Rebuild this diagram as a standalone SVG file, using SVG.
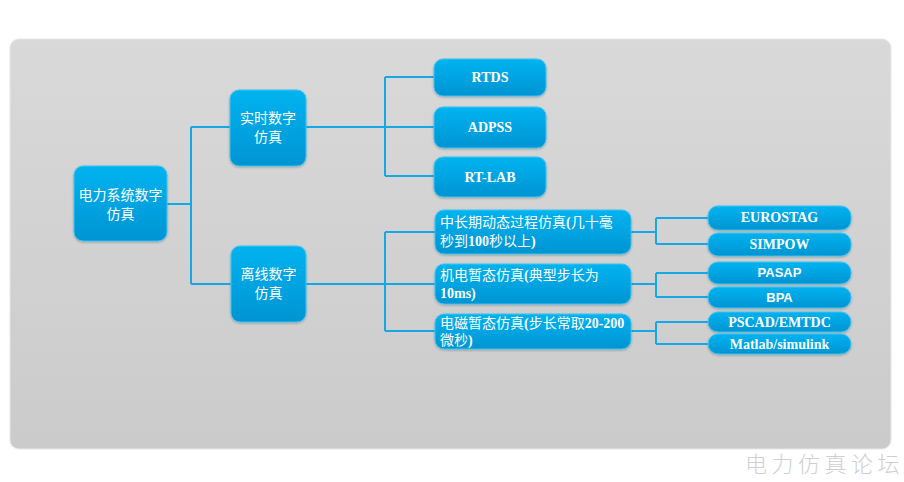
<svg xmlns="http://www.w3.org/2000/svg" width="904" height="482" viewBox="0 0 904 482">
<defs>
<linearGradient id="bg" x1="0" y1="0" x2="0" y2="1">
<stop offset="0" stop-color="#d9d9d9"/>
<stop offset="1" stop-color="#cbcbcb"/>
</linearGradient>
<linearGradient id="nd" x1="0" y1="0" x2="0" y2="1">
<stop offset="0" stop-color="#02b3f0"/>
<stop offset="1" stop-color="#0094d2"/>
</linearGradient>
<filter id="sh" x="-10%" y="-10%" width="120%" height="130%">
<feDropShadow dx="0" dy="1" stdDeviation="1" flood-color="#000" flood-opacity="0.25"/>
</filter>
</defs>
<style>
.n{fill:url(#nd);stroke:#3ec3f3;stroke-width:1;filter:url(#sh)}
.zh{font-family:"Liberation Serif","Noto Sans CJK SC",serif;font-size:14px;fill:#fff}
.b{font-weight:bold}
.en{font-family:"Liberation Serif",serif;font-size:14px;font-weight:bold;fill:#fff;text-anchor:middle}
.ens{font-family:"Liberation Sans",sans-serif;font-size:13px;font-weight:bold;fill:#fff;text-anchor:middle}
.c{fill:none;stroke:#16a8e4;stroke-width:2}
</style>
<rect width="904" height="482" fill="#fff"/>
<rect x="10" y="39" width="881" height="410" rx="9" fill="url(#bg)" stroke="#e6e6e6" stroke-width="1"/>
<g id="connectors">
<path class="c" d="M167 204H191M191 127V284M191 127H230M191 284H231"/>
<path class="c" d="M306 127H385M385 77V176M385 77H434M385 127H434M385 176H434"/>
<path class="c" d="M306 284H385M385 232V331M385 232H435M385 284H435M385 331H435"/>
<path class="c" d="M631 232H656M656 218V244M656 218H708M656 244H708"/>
<path class="c" d="M631 284H656M656 273V297M656 273H708M656 297H708"/>
<path class="c" d="M631 331H656M656 322V344M656 322H708M656 344H708"/>
</g>
<g id="root"><rect class="n" x="74" y="166" width="93" height="75" rx="9"/>
<text class="zh" x="120.5" y="200" text-anchor="middle">电力系统数字</text>
<text class="zh" x="120.5" y="219" text-anchor="middle">仿真</text></g>
<g id="realtime"><rect class="n" x="230" y="90" width="76" height="76" rx="9"/>
<text class="zh" x="268" y="123" text-anchor="middle">实时数字</text>
<text class="zh" x="268" y="142" text-anchor="middle">仿真</text></g>
<g id="offline"><rect class="n" x="231" y="246" width="75" height="76" rx="9"/>
<text class="zh" x="268.5" y="279" text-anchor="middle">离线数字</text>
<text class="zh" x="268.5" y="298" text-anchor="middle">仿真</text></g>
<g id="rtds"><rect class="n" x="434" y="59" width="112" height="37" rx="9"/><text class="en" x="490" y="82">RTDS</text></g>
<g id="adpss"><rect class="n" x="434" y="107" width="112" height="41" rx="9"/><text class="en" x="490" y="132">ADPSS</text></g>
<g id="rtlab"><rect class="n" x="434" y="157" width="112" height="40" rx="9"/><text class="en" x="490" y="182">RT-LAB</text></g>
<g id="midlong"><rect class="n" x="435" y="210" width="196" height="44" rx="9"/>
<text class="zh" x="440" y="227">中长期动态过程仿真<tspan class="b">(</tspan>几十毫</text>
<text class="zh" x="440" y="246">秒到<tspan class="b">100</tspan>秒以上<tspan class="b">)</tspan></text></g>
<g id="electromech"><rect class="n" x="435" y="264" width="196" height="40" rx="9"/>
<text class="zh" x="440" y="280">机电暂态仿真<tspan class="b">(</tspan>典型步长为</text>
<text class="zh" x="440" y="298"><tspan class="b">10ms)</tspan></text></g>
<g id="electromag"><rect class="n" x="435" y="314" width="196" height="35" rx="9"/>
<text class="zh" x="440" y="328">电磁暂态仿真<tspan class="b">(</tspan>步长常取<tspan class="b">20-200</tspan></text>
<text class="zh" x="440" y="345">微秒<tspan class="b">)</tspan></text></g>
<g id="eurostag"><rect class="n" x="708" y="206" width="143" height="24" rx="10"/><text class="en" x="779.5" y="222">EUROSTAG</text></g>
<g id="simpow"><rect class="n" x="708" y="233" width="143" height="23" rx="10"/><text class="en" x="779.5" y="249">SIMPOW</text></g>
<g id="pasap"><rect class="n" x="708" y="262" width="143" height="22" rx="10"/><text class="ens" x="779.5" y="277">PASAP</text></g>
<g id="bpa"><rect class="n" x="708" y="287" width="143" height="21" rx="10"/><text class="ens" x="779.5" y="302">BPA</text></g>
<g id="pscad"><rect class="n" x="708" y="312" width="143" height="20" rx="10"/><text class="en" x="779.5" y="327">PSCAD/EMTDC</text></g>
<g id="matlab"><rect class="n" x="708" y="334" width="143" height="20" rx="10"/><text class="en" x="779.5" y="349">Matlab/simulink</text></g>
<text x="745" y="472" font-family="'Noto Sans CJK SC',sans-serif" font-size="22" font-weight="300" fill="#cfcfcf" letter-spacing="4.5">电力仿真论坛</text>
</svg>
